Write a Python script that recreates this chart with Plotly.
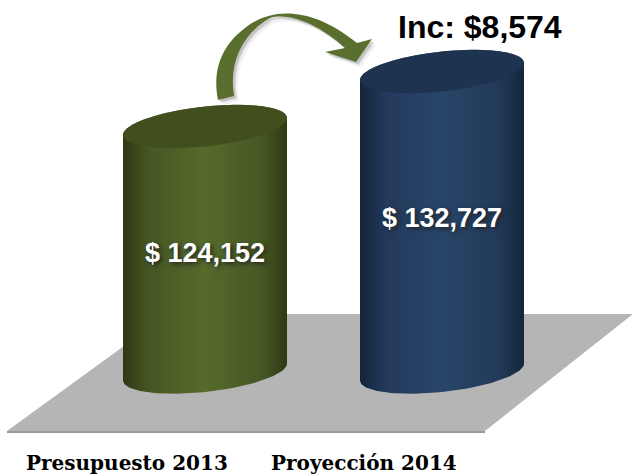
import numpy as np
import plotly.graph_objects as go

CATEGORIES = ["Presupuesto 2013", "Proyección 2014"]
VALUES = [124152, 132727]
INCREASE = 8574

# value axis is truncated, the picture only shows the top of it
VALUE_TOP = 143874
VALUE_BOTTOM = 69662
VALUE_BASE = 85879
WIDTH, HEIGHT = 633, 476
VALUE_PER_PX = (VALUE_TOP - VALUE_BOTTOM) / HEIGHT

CENTERS = [205, 442]
HALF_W = 82
RIM_TILT = 8.5
RIM_DEPTH = 20

GRADIENT_STOPS = [0, 0.16, 0.5, 0.84, 1]
BODY_COLORS = [
    ["#2e3815", "#465723", "#566a2c", "#475824", "#2f3915"],
    ["#14243a", "#233a5c", "#284568", "#223a5a", "#15253c"],
]
TOP_COLORS = ["#414e1e", "#1e3350"]
LABEL_Y = [253, 218]
CATEGORY_X = [127, 364]

FLOOR_X = [7, 485, 633, 168]
FLOOR_Y = [431, 431, 314, 314]

# arrow outline: M, then (command, points) with x,y pairs in picture pixels
ARROW_START = (218, 100)
ARROW_SEGMENTS = [
    ("C", [(212, 70), (222, 45), (245, 28)]),
    ("C", [(270, 8), (310, 5), (357, 43)]),
    ("L", [(372, 39)]),
    ("L", [(356, 62)]),
    ("L", [(325, 52)]),
    ("L", [(345, 48)]),
    ("C", [(320, 25), (290, 12), (270, 18)]),
    ("C", [(245, 32), (228, 60), (234, 96)]),
]


def rim(center, value, t):
    x = center + HALF_W * np.cos(t)
    y = value + VALUE_PER_PX * (RIM_TILT * np.cos(t) - RIM_DEPTH * np.sin(t))
    return x, y


def arrow_path(offset=0):
    parts = [f"M {ARROW_START[0] + offset} {ARROW_START[1] + offset}"]
    for cmd, points in ARROW_SEGMENTS:
        coords = " ".join(f"{px + offset} {py + offset}" for px, py in points)
        parts.append(f"{cmd} {coords}")
    return " ".join(parts) + " Z"


fig = go.Figure()

# floor lives on the pixel axis, underneath the cylinders
fig.add_trace(go.Scatter(
    x=FLOOR_X + FLOOR_X[:1], y=FLOOR_Y + FLOOR_Y[:1], mode="lines", fill="toself",
    fillcolor="#b5b5b5", line=dict(width=0), hoverinfo="skip",
))
fig.add_trace(go.Scatter(
    x=FLOOR_X[:2], y=[FLOOR_Y[0] + 1, FLOOR_Y[1] + 1], mode="lines",
    line=dict(color="#9a9a9a", width=2), hoverinfo="skip",
))

for offset, alpha in [(5, 0.08), (3, 0.14), (2, 0.2)]:
    fig.add_shape(type="path", path=arrow_path(offset), xref="x", yref="y", layer="below",
                  fillcolor=f"rgba(90,90,90,{alpha})", line=dict(width=0))
fig.add_shape(type="path", path=arrow_path(), xref="x", yref="y", layer="below",
              fillcolor="#5a6e2e", line=dict(width=0))

for center, value, body, top in zip(CENTERS, VALUES, BODY_COLORS, TOP_COLORS):
    low_x, low_y = rim(center, VALUE_BASE, np.linspace(np.pi, 0, 60))
    up_x, up_y = rim(center, value, np.linspace(0, -np.pi, 60))
    fig.add_trace(go.Scatter(
        x=np.concatenate([low_x, up_x]), y=np.concatenate([low_y, up_y]),
        yaxis="y2", mode="lines", fill="toself",
        fillgradient=dict(
            type="horizontal",
            colorscale=[[s, c] for s, c in zip(GRADIENT_STOPS, body)],
        ),
        line=dict(width=0), hoverinfo="skip",
    ))
    rim_x, rim_y = rim(center, value, np.linspace(0, 2 * np.pi, 120))
    fig.add_trace(go.Scatter(
        x=rim_x, y=rim_y, yaxis="y2", mode="lines", fill="toself",
        fillcolor=top, line=dict(width=0), hoverinfo="skip",
    ))

for center, value, label_y in zip(CENTERS, VALUES, LABEL_Y):
    fig.add_annotation(
        x=center, y=label_y, xref="x", yref="y",
        text=f"<b>$ {value:,}</b>", showarrow=False,
        font=dict(family="Liberation Sans", size=27, color="white", shadow="2px 2px 4px #222"),
    )

fig.add_annotation(
    x=480, y=27, xref="x", yref="y", text=f"<b>Inc: ${INCREASE:,}</b>", showarrow=False,
    font=dict(family="Liberation Sans", size=32, color="black"),
)

for center, name in zip(CATEGORY_X, CATEGORIES):
    fig.add_annotation(
        x=center, y=463, xref="x", yref="y", text=f"<b>{name}</b>", showarrow=False,
        font=dict(family="DejaVu Serif", size=20, color="black"),
    )

fig.update_layout(
    width=WIDTH,
    height=HEIGHT,
    margin=dict(t=0, b=0, l=0, r=0),
    plot_bgcolor="white",
    paper_bgcolor="white",
    showlegend=False,
    xaxis=dict(range=[0, WIDTH], visible=False),
    yaxis=dict(range=[HEIGHT, 0], visible=False),
    yaxis2=dict(range=[VALUE_BOTTOM, VALUE_TOP], overlaying="y", visible=False),
)

fig.write_html("out.html", config=dict(displayModeBar=False),
               post_script="document.body.style.margin='0';")
